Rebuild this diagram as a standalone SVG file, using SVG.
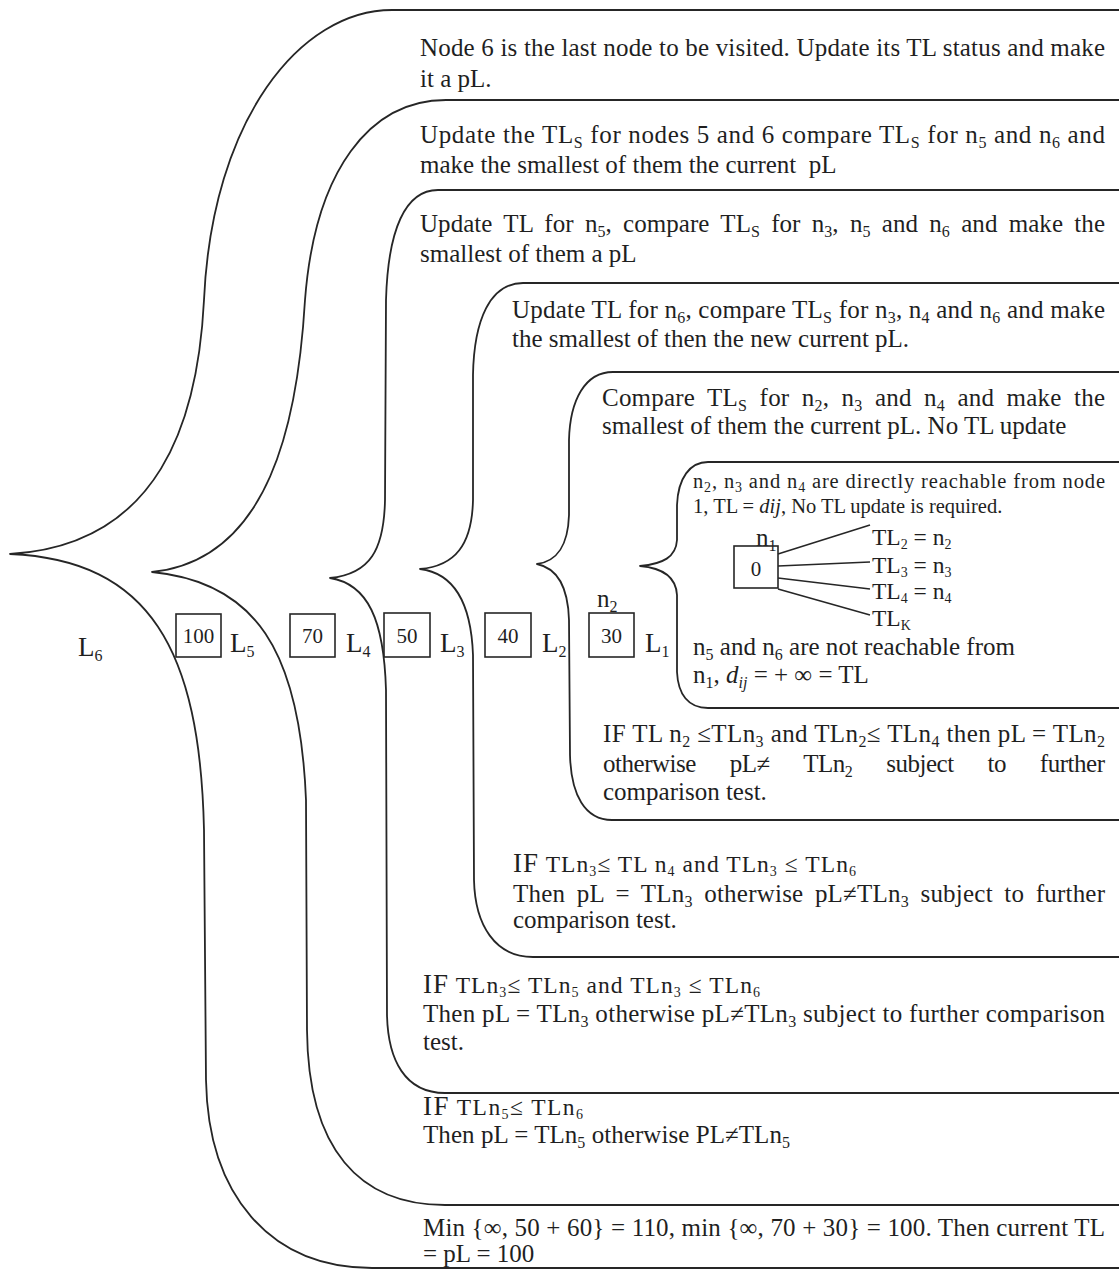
<svg xmlns="http://www.w3.org/2000/svg" width="1119" height="1271" viewBox="0 0 1119 1271">
  <style>
    .t{font-family:"Liberation Serif","Times New Roman",serif;font-size:25px;fill:#1f1f1f}
    .sm{font-size:20.5px}
    .md{font-size:23.5px}
    .big{font-size:27px}
    .s{font-size:16px}
    .ss{font-size:14px}
    .lb{font-family:"Liberation Serif","Times New Roman",serif;font-size:27px;fill:#1f1f1f}
    .num{font-family:"Liberation Serif","Times New Roman",serif;font-size:21px;fill:#1f1f1f;text-anchor:middle}
    .br{fill:none;stroke:#262626;stroke-width:1.8;stroke-linejoin:round}
    .box{fill:none;stroke:#262626;stroke-width:1.6}
    .ln{stroke:#262626;stroke-width:1.6}
  </style>
  <rect width="1119" height="1271" fill="#ffffff"/>

  <!-- nested braces, outermost first -->
  <g id="connectors">
    <path class="br" d="M1119,10 H392 C300,10 212,120 204,300 C198,420 160,545 10,554 C150,560 200,650 204,830 L206,1080 C208,1195 270,1268 372,1268 H1119"/>
    <path class="br" d="M1119,100 H446 C370,100 315,170 305,300 C298,420 270,560 152,572 C255,582 300,650 306,800 L307,1030 C308,1150 360,1205 445,1205 H1119"/>
    <path class="br" d="M1119,190 H438 C405,190 388,230 386,300 L385,500 C384,550 370,574 330,578 C368,584 384,620 386,690 L387,1015 C388,1060 405,1093 445,1093 H1119"/>
    <path class="br" d="M1119,283 H523 C490,283 474,320 473,375 L473,500 C472,545 455,566 420,569 C452,573 471,600 473,655 L474,880 C475,925 495,957 533,957 H1119"/>
    <path class="br" d="M1119,372 H613 C585,372 570,400 569,440 L569,515 C568,545 558,561 537,564 C556,568 568,585 569,620 L570,755 C571,795 585,820 612,820 H1119"/>
    <path class="br" d="M1119,462 H708 C690,462 678,478 677,505 L677,540 C676,557 663,564 640,566 C663,568 676,577 677,595 L677,672 C678,694 688,708 708,708 H1119"/>
    <!-- edges fanning out of node n1 -->
    <line class="ln" x1="778" y1="554" x2="870" y2="525"/>
    <line class="ln" x1="778" y1="566" x2="870" y2="562"/>
    <line class="ln" x1="778" y1="578" x2="870" y2="589"/>
    <line class="ln" x1="778" y1="589" x2="870" y2="615"/>
  </g>

  <!-- level L6 -->
  <g id="level-L6">
    <text class="lb" x="78" y="656">L<tspan class="s" dy="5">6</tspan></text>
    <text class="t" x="420" y="56" textLength="685" lengthAdjust="spacing">Node 6 is the last node to be visited. Update its TL status and make</text>
    <text class="t" x="420" y="87">it a pL.</text>
    <text class="t" x="423" y="1236" textLength="682" lengthAdjust="spacing">Min {∞, 50 + 60} = 110, min {∞, 70 + 30} = 100. Then current TL</text>
    <text class="t" x="423" y="1262">= pL = 100</text>
  </g>

  <!-- level L5 -->
  <g id="level-L5">
    <rect class="box" x="176" y="614" width="45" height="43"/>
    <text class="num" x="198.5" y="643">100</text>
    <text class="lb" x="230" y="652">L<tspan class="s" dy="5">5</tspan></text>
    <text class="t" x="420" y="143" textLength="685" lengthAdjust="spacing">Update the TL<tspan class="s" dy="5">S</tspan><tspan dy="-5"> for nodes 5 and 6 compare TL</tspan><tspan class="s" dy="5">S</tspan><tspan dy="-5"> for n</tspan><tspan class="s" dy="5">5</tspan><tspan dy="-5"> and n</tspan><tspan class="s" dy="5">6</tspan><tspan dy="-5"> and</tspan></text>
    <text class="t" x="420" y="173">make the smallest of them the current &#160;pL</text>
    <text class="t" x="423" y="1115" textLength="160" lengthAdjust="spacing"><tspan class="big">IF</tspan><tspan class="md"> TLn</tspan><tspan class="ss" dy="4">5</tspan><tspan class="md" dy="-4">≤ TLn</tspan><tspan class="ss" dy="4">6</tspan></text>
    <text class="t" x="423" y="1143" textLength="367" lengthAdjust="spacing">Then pL = TLn<tspan class="s" dy="5">5</tspan><tspan dy="-5"> otherwise PL≠TLn</tspan><tspan class="s" dy="5">5</tspan></text>
  </g>

  <!-- level L4 -->
  <g id="level-L4">
    <rect class="box" x="290" y="614" width="45" height="43"/>
    <text class="num" x="312.5" y="643">70</text>
    <text class="lb" x="346" y="652">L<tspan class="s" dy="5">4</tspan></text>
    <text class="t" x="420" y="232" textLength="685" lengthAdjust="spacing" word-spacing="5">Update TL for n<tspan class="s" dy="5">5</tspan><tspan dy="-5">, compare TL</tspan><tspan class="s" dy="5">S</tspan><tspan dy="-5"> for n</tspan><tspan class="s" dy="5">3</tspan><tspan dy="-5">, n</tspan><tspan class="s" dy="5">5</tspan><tspan dy="-5"> and n</tspan><tspan class="s" dy="5">6</tspan><tspan dy="-5"> and make the</tspan></text>
    <text class="t" x="420" y="262">smallest of them a pL</text>
    <text class="t" x="423" y="993" textLength="337" lengthAdjust="spacing"><tspan class="big">IF</tspan><tspan class="md"> TLn</tspan><tspan class="ss" dy="4">3</tspan><tspan class="md" dy="-4">≤ TLn</tspan><tspan class="ss" dy="4">5</tspan><tspan class="md" dy="-4"> and TLn</tspan><tspan class="ss" dy="4">3</tspan><tspan class="md" dy="-4"> ≤ TLn</tspan><tspan class="ss" dy="4">6</tspan></text>
    <text class="t" x="423" y="1022" textLength="682" lengthAdjust="spacing">Then pL = TLn<tspan class="s" dy="5">3</tspan><tspan dy="-5"> otherwise pL≠TLn</tspan><tspan class="s" dy="5">3</tspan><tspan dy="-5"> subject to further comparison</tspan></text>
    <text class="t" x="423" y="1050">test.</text>
  </g>

  <!-- level L3 -->
  <g id="level-L3">
    <rect class="box" x="384" y="613" width="46" height="44"/>
    <text class="num" x="407" y="643">50</text>
    <text class="lb" x="440" y="652">L<tspan class="s" dy="5">3</tspan></text>
    <text class="t" x="512" y="318" textLength="593" lengthAdjust="spacing">Update TL for n<tspan class="s" dy="5">6</tspan><tspan dy="-5">, compare TL</tspan><tspan class="s" dy="5">S</tspan><tspan dy="-5"> for n</tspan><tspan class="s" dy="5">3</tspan><tspan dy="-5">, n</tspan><tspan class="s" dy="5">4</tspan><tspan dy="-5"> and n</tspan><tspan class="s" dy="5">6</tspan><tspan dy="-5"> and make</tspan></text>
    <text class="t" x="512" y="347">the smallest of then the new current pL.</text>
    <text class="t" x="513" y="872" textLength="343" lengthAdjust="spacing"><tspan class="big">IF</tspan><tspan class="md"> TLn</tspan><tspan class="ss" dy="4">3</tspan><tspan class="md" dy="-4">≤ TL n</tspan><tspan class="ss" dy="4">4</tspan><tspan class="md" dy="-4"> and TLn</tspan><tspan class="ss" dy="4">3</tspan><tspan class="md" dy="-4"> ≤ TLn</tspan><tspan class="ss" dy="4">6</tspan></text>
    <text class="t" x="513" y="902" textLength="592" lengthAdjust="spacing" word-spacing="5">Then pL = TLn<tspan class="s" dy="5">3</tspan><tspan dy="-5"> otherwise pL≠TLn</tspan><tspan class="s" dy="5">3</tspan><tspan dy="-5"> subject to further</tspan></text>
    <text class="t" x="513" y="928">comparison test.</text>
  </g>

  <!-- level L2 -->
  <g id="level-L2">
    <rect class="box" x="485" y="613" width="46" height="44"/>
    <text class="num" x="508" y="643">40</text>
    <text class="lb" x="542" y="652">L<tspan class="s" dy="5">2</tspan></text>
    <text class="t" x="602" y="406" textLength="503" lengthAdjust="spacing" word-spacing="6">Compare TL<tspan class="s" dy="5">S</tspan><tspan dy="-5"> for n</tspan><tspan class="s" dy="5">2</tspan><tspan dy="-5">, n</tspan><tspan class="s" dy="5">3</tspan><tspan dy="-5"> and n</tspan><tspan class="s" dy="5">4</tspan><tspan dy="-5"> and make the</tspan></text>
    <text class="t" x="602" y="434">smallest of them the current pL. No TL update</text>
    <text class="t" x="603" y="742" textLength="502" lengthAdjust="spacing">IF TL n<tspan class="s" dy="5">2</tspan><tspan dy="-5"> ≤TLn</tspan><tspan class="s" dy="5">3</tspan><tspan dy="-5"> and TLn</tspan><tspan class="s" dy="5">2</tspan><tspan dy="-5">≤ TLn</tspan><tspan class="s" dy="5">4</tspan><tspan dy="-5"> then pL = TLn</tspan><tspan class="s" dy="5">2</tspan></text>
    <text class="t" x="603" y="772" textLength="502" lengthAdjust="spacing" word-spacing="28">otherwise pL≠ TLn<tspan class="s" dy="5">2</tspan><tspan dy="-5"> subject to further</tspan></text>
    <text class="t" x="603" y="800">comparison test.</text>
  </g>

  <!-- level L1 -->
  <g id="level-L1">
    <text class="t" x="597" y="607">n<tspan class="s" dy="5">2</tspan></text>
    <rect class="box" x="589" y="613" width="45" height="44"/>
    <text class="num" x="611.5" y="643">30</text>
    <text class="lb" x="645" y="652">L<tspan class="s" dy="5">1</tspan></text>
    <text class="t sm" x="693" y="488" textLength="412" lengthAdjust="spacing">n<tspan class="ss" dy="4">2</tspan><tspan dy="-4">, n</tspan><tspan class="ss" dy="4">3</tspan><tspan dy="-4"> and n</tspan><tspan class="ss" dy="4">4</tspan><tspan dy="-4"> are directly reachable from node</tspan></text>
    <text class="t sm" x="693" y="513">1, TL = <tspan font-style="italic">dij</tspan>, No TL update is required.</text>
  </g>

  <!-- node n1 and its reachable neighbours -->
  <g id="node-n1">
    <text class="t" x="756" y="546">n<tspan class="s" dy="5">1</tspan></text>
    <rect class="box" x="734" y="546" width="44" height="42"/>
    <text class="num" x="756" y="576">0</text>
  </g>
  <g id="node-TL2"><text class="t md" x="872" y="545">TL<tspan class="ss" dy="4">2</tspan><tspan dy="-4"> = n</tspan><tspan class="ss" dy="4">2</tspan></text></g>
  <g id="node-TL3"><text class="t md" x="872" y="573">TL<tspan class="ss" dy="4">3</tspan><tspan dy="-4"> = n</tspan><tspan class="ss" dy="4">3</tspan></text></g>
  <g id="node-TL4"><text class="t md" x="872" y="599">TL<tspan class="ss" dy="4">4</tspan><tspan dy="-4"> = n</tspan><tspan class="ss" dy="4">4</tspan></text></g>
  <g id="node-TLK"><text class="t md" x="872" y="626">TL<tspan class="ss" dy="4">K</tspan></text></g>

  <g id="unreachable-note">
    <text class="t" x="693" y="655" textLength="322" lengthAdjust="spacing">n<tspan class="s" dy="5">5</tspan><tspan dy="-5"> and n</tspan><tspan class="s" dy="5">6</tspan><tspan dy="-5"> are not reachable from</tspan></text>
    <text class="t" x="693" y="683">n<tspan class="s" dy="5">1</tspan><tspan dy="-5">, </tspan><tspan font-style="italic">d</tspan><tspan class="s" font-style="italic" dy="5">ij</tspan><tspan dy="-5"> = + ∞ = TL</tspan></text>
  </g>
</svg>
